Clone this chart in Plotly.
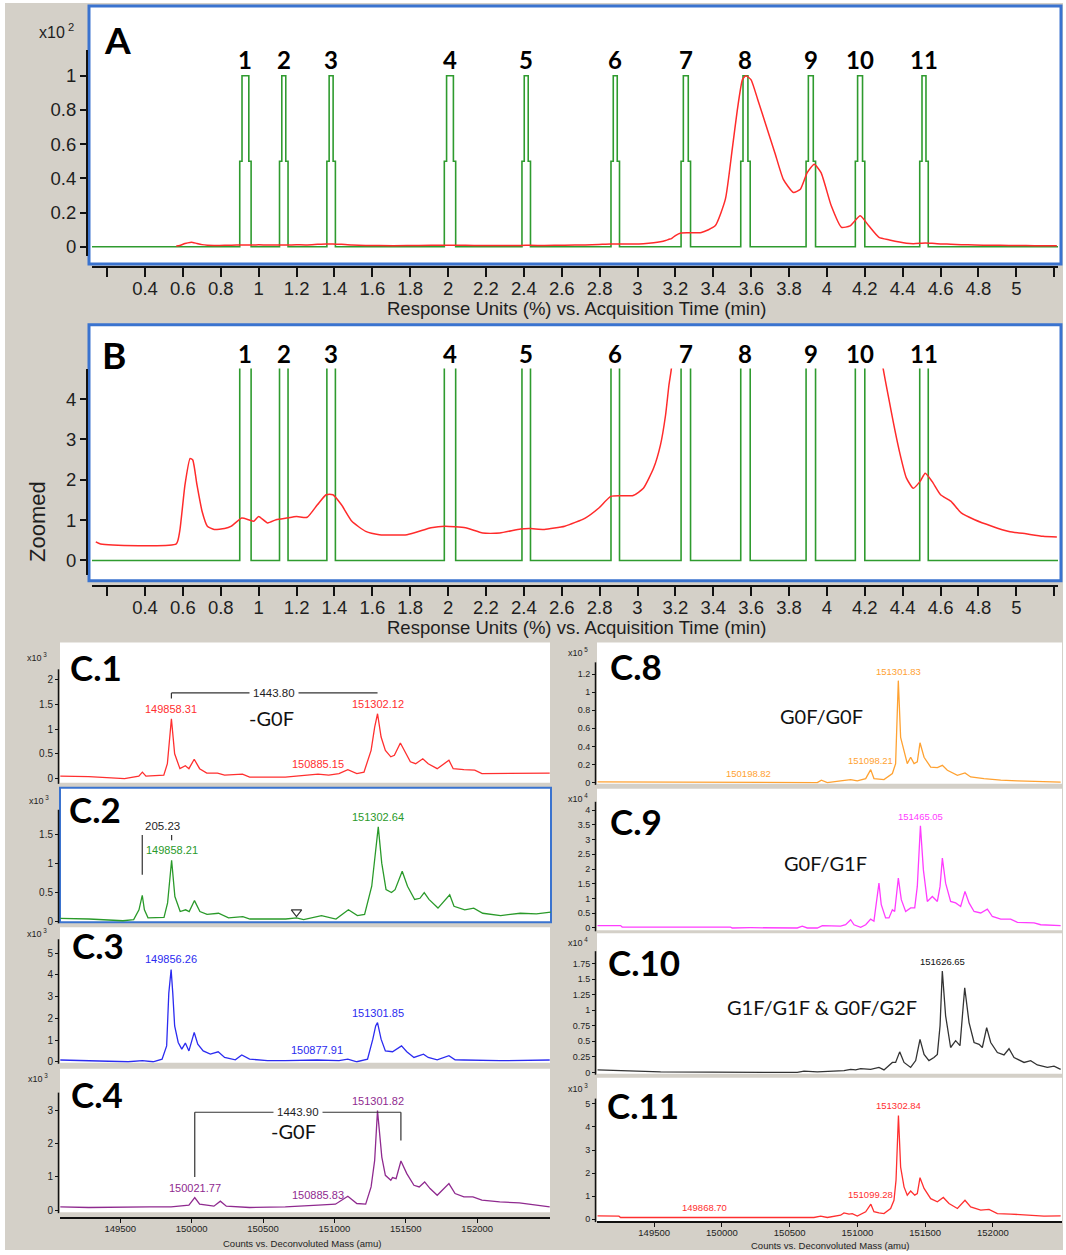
import numpy as np
import plotly.graph_objects as go

# ---------------- Total ion chromatogram (panels A and B) ----------------
# acquisition time (min) and response (% of the largest peak)
tic_time = [0.14, 0.165, 0.565, 0.583, 0.611, 0.638, 0.652, 0.674, 0.701, 0.729,
            0.765, 0.82, 0.856, 0.91, 0.947, 0.974, 1.0, 1.047, 1.092, 1.147,
            1.2, 1.256, 1.31, 1.356, 1.392, 1.437, 1.492, 1.565, 1.637, 1.783,
            1.91, 1.983, 2.092, 2.183, 2.273, 2.383, 2.435, 2.508, 2.616, 2.724,
            2.796, 2.859, 2.977, 3.031, 3.085, 3.121, 3.148, 3.166, 3.179, 3.20,
            3.229, 3.337, 3.41, 3.464, 3.50, 3.527, 3.554, 3.572, 3.599, 3.635,
            3.68, 3.725, 3.77, 3.823, 3.86, 3.896, 3.933, 3.969, 4.023, 4.077,
            4.122, 4.176, 4.221, 4.275, 4.33, 4.383, 4.42, 4.456, 4.492, 4.519,
            4.555, 4.6, 4.654, 4.709, 4.78, 4.871, 4.961, 5.051, 5.141, 5.214]
tic_pct = [0.46, 0.41, 0.41, 0.72, 1.88, 2.53, 2.49, 1.88, 1.22, 0.85,
           0.77, 0.79, 0.85, 1.05, 1.01, 0.97, 1.09, 0.93, 1.01, 1.05,
           1.09, 1.07, 1.38, 1.63, 1.63, 1.38, 0.97, 0.72, 0.64, 0.64,
           0.81, 0.85, 0.81, 0.68, 0.68, 0.78, 0.79, 0.77, 0.85, 1.05,
           1.30, 1.59, 1.61, 1.79, 2.29, 2.86, 3.60, 4.35, 4.76, 6.5,
           8.0, 8.3, 12.2, 27.8, 56.9, 80.0, 97.7, 100.0, 97.7, 86.0,
           70.5, 55.0, 39.4, 31.7, 33.6, 43.3, 48.2, 43.3, 23.9, 11.3,
           12.2, 18.1, 12.2, 5.4, 3.93, 2.70, 2.04, 1.79, 1.96, 2.16,
           1.96, 1.63, 1.47, 1.18, 1.01, 0.85, 0.72, 0.66, 0.60, 0.58]
tic_first_time_full_view = 0.565

# MS acquisition windows (min)
win_start = [0.90, 1.11, 1.36, 1.98, 2.39, 2.86, 3.23, 3.545, 3.89, 4.15, 4.49]
win_end = [0.96, 1.155, 1.405, 2.04, 2.435, 2.905, 3.28, 3.595, 3.94, 4.20, 4.535]
win_label = ["1", "2", "3", "4", "5", "6", "7", "8", "9", "10", "11"]
win_height_pct = 100.0
scan_span = [0.12, 5.22]

# ---------------- Deconvoluted spectra: mass (amu) vs counts ----------------
c1_mass = [149080, 149280, 149530, 149630, 149655, 149680, 149805, 149830, 149858.31, 149881,
           149918, 149956, 149981, 150018, 150056, 150106, 150181, 150231, 150356, 150406,
           150656, 150780, 150885.15, 150960, 151032, 151094, 151157, 151207, 151257, 151282,
           151302.12, 151327, 151357, 151395, 151420, 151462, 151495, 151532, 151569, 151619,
           151657, 151720, 151802, 151832, 151907, 151983, 152033, 152283, 152408, 152508]
c1_counts = [0.05, 0.04, 0.00, 0.05, 0.13, 0.05, 0.07, 0.30, 1.21, 0.50,
             0.20, 0.26, 0.20, 0.39, 0.20, 0.11, 0.11, 0.07, 0.09, 0.03,
             0.03, 0.06, 0.09, 0.07, 0.10, 0.18, 0.10, 0.13, 0.57, 1.04,
             1.31, 0.84, 0.57, 0.44, 0.47, 0.72, 0.54, 0.34, 0.30, 0.40,
             0.30, 0.20, 0.37, 0.20, 0.18, 0.17, 0.10, 0.10, 0.10, 0.11]
c1_peaks = [149858.31, 151302.12, 150885.15]
c1_delta = 1443.80

c2_mass = [149080, 149280, 149518, 149593, 149630, 149652.98, 149668, 149693, 149805, 149830,
           149858.21, 149881, 149918, 149956, 149981, 150018, 150056, 150106, 150186, 150256,
           150356, 150406, 150656, 150731, 150781, 150906, 151007, 151094, 151157, 151207,
           151257, 151282, 151302.64, 151327, 151357, 151395, 151420, 151470, 151507, 151557,
           151594, 151624, 151657, 151720, 151802, 151832, 151907, 151970, 152033, 152158,
           152295, 152408, 152508]
c2_counts = [0.05, 0.04, 0.01, 0.03, 0.20, 0.45, 0.20, 0.06, 0.07, 0.32,
             1.06, 0.43, 0.17, 0.20, 0.17, 0.36, 0.17, 0.12, 0.14, 0.06,
             0.08, 0.04, 0.04, 0.06, 0.03, 0.10, 0.04, 0.20, 0.10, 0.12,
             0.61, 1.18, 1.64, 1.01, 0.55, 0.50, 0.55, 0.87, 0.61, 0.38,
             0.40, 0.50, 0.38, 0.23, 0.46, 0.26, 0.20, 0.23, 0.14, 0.10,
             0.14, 0.13, 0.16]
c2_peaks = [149858.21, 151302.64]
c2_delta = 205.23
c2_marker_mass = [150731]
c2_marker_counts = [0.16]

c3_mass = [149080, 149305, 149555, 149655, 149730, 149793, 149825, 149840, 149856.26, 149868,
           149881, 149906, 149931, 149956, 149981, 150018, 150043, 150081, 150131, 150186,
           150231, 150306, 150351, 150406, 150531, 150656, 150877.91, 151032, 151094, 151157,
           151232, 151269, 151289, 151301.85, 151327, 151357, 151407, 151470, 151507, 151557,
           151624, 151657, 151720, 151802, 151845, 151907, 152158, 152508]
c3_counts = [0.08, 0.05, 0.00, 0.05, 0.00, 0.12, 0.73, 3.15, 4.25, 3.15,
             1.65, 0.89, 0.58, 0.86, 0.50, 1.35, 0.81, 0.50, 0.35, 0.46,
             0.20, 0.09, 0.31, 0.12, 0.05, 0.05, 0.08, 0.05, 0.12, 0.00,
             0.12, 1.04, 1.65, 1.80, 1.04, 0.50, 0.46, 0.73, 0.46, 0.20,
             0.35, 0.20, 0.09, 0.28, 0.09, 0.08, 0.05, 0.08]
c3_peaks = [149856.26, 151301.85, 150877.91]

c4_mass = [149080, 149280, 149705, 149856, 149981, 150021.77, 150056, 150156, 150201, 150243,
           150406, 150656, 150885.83, 151007, 151094, 151157, 151219, 151257, 151282, 151301.82,
           151332, 151357, 151395, 151407, 151432, 151466, 151507, 151557, 151594, 151632,
           151670, 151720, 151802, 151845, 151907, 151970, 152033, 152158, 152295, 152408,
           152508]
c4_counts = [0.10, 0.08, 0.10, 0.10, 0.15, 0.38, 0.18, 0.12, 0.27, 0.12,
             0.08, 0.10, 0.15, 0.18, 0.42, 0.20, 0.18, 0.70, 1.50, 3.00,
             1.60, 1.05, 0.90, 0.98, 0.95, 1.48, 1.10, 0.75, 0.70, 0.85,
             0.65, 0.45, 0.80, 0.50, 0.40, 0.40, 0.30, 0.25, 0.22, 0.15,
             0.10]
c4_peaks = [151301.82, 150021.77, 150885.83]
c4_delta = 1443.90

c8_mass = [149082, 149252, 149264, 150556, 150569, 150606, 150704, 150734, 150778, 150876,
           150950, 150999, 151061, 151098.21, 151122, 151196, 151258, 151282, 151301.83, 151319,
           151344, 151368, 151393, 151418, 151442, 151462, 151492, 151541, 151590, 151627,
           151664, 151738, 151794, 151836, 151934, 152058, 152181, 152291, 152304, 152500]
c8_counts = [0.007, 0.007, 0.0, 0.0, 0.007, 0.0, 0.0, 0.026, 0.0, 0.018,
             0.033, 0.018, 0.044, 0.143, 0.044, 0.033, 0.10, 0.21, 1.127, 0.50,
             0.36, 0.21, 0.28, 0.21, 0.23, 0.44, 0.28, 0.17, 0.165, 0.19,
             0.136, 0.08, 0.106, 0.062, 0.044, 0.026, 0.018, 0.015, 0.007, 0.004]
c8_peaks = [151301.83, 151098.21, 150198.82]

c9_mass = [149082, 149252, 149264, 150064, 150076, 150212, 150556, 150593, 150630, 150704,
           150741, 150802, 150876, 150913, 150950, 150975, 151024, 151061, 151098, 151122,
           151142, 151159, 151176, 151208, 151233, 151258, 151275, 151302, 151324, 151356,
           151393, 151423, 151442, 151465.05, 151487, 151516, 151553, 151590, 151610, 151627,
           151651, 151688, 151725, 151762, 151794, 151824, 151861, 151910, 151959, 151996,
           152058, 152131, 152181, 152304, 152353, 152500]
c9_counts = [0.08, 0.08, 0.03, 0.03, 0.0, 0.01, 0.0, 0.06, 0.0, 0.0,
             0.08, 0.06, 0.06, 0.11, 0.28, 0.11, 0.02, 0.11, 0.30, 0.23,
             0.96, 1.52, 0.79, 0.34, 0.34, 0.62, 0.56, 1.69, 0.96, 0.56,
             0.68, 0.68, 1.41, 3.47, 1.97, 0.90, 1.07, 0.90, 1.41, 2.37,
             1.52, 0.90, 0.85, 0.73, 1.24, 0.85, 0.56, 0.51, 0.64, 0.39,
             0.30, 0.30, 0.19, 0.17, 0.11, 0.08]
c9_peaks = [151465.05]

c10_mass = [149082, 149252, 149547, 150310, 150556, 150606, 150704, 150901, 150950, 150987,
            151024, 151098, 151159, 151196, 151258, 151282, 151312, 151344, 151393, 151430,
            151462, 151492, 151528, 151565, 151590, 151610, 151626.65, 151651, 151688, 151725,
            151757, 151792, 151824, 151861, 151898, 151922, 151954, 151984, 152033, 152082,
            152119, 152156, 152230, 152279, 152328, 152402, 152451, 152500]
c10_counts = [0.04, 0.03, 0.01, 0.0, 0.0, 0.02, 0.01, 0.03, 0.05, 0.04,
              0.06, 0.05, 0.08, 0.04, 0.16, 0.16, 0.33, 0.16, 0.08, 0.19,
              0.53, 0.29, 0.19, 0.24, 0.29, 0.75, 1.63, 0.91, 0.40, 0.51,
              0.43, 1.36, 0.80, 0.48, 0.45, 0.40, 0.72, 0.48, 0.32, 0.28,
              0.38, 0.24, 0.16, 0.19, 0.12, 0.08, 0.10, 0.05]
c10_peaks = [151626.65]

c11_mass = [149082, 149240, 149252, 149720, 149868.70, 150113, 150126, 150679, 150729, 150778,
            150876, 150901, 150938, 150962, 150999, 151061, 151099.28, 151122, 151159, 151196,
            151245, 151270, 151285, 151302.84, 151319, 151344, 151368, 151393, 151423, 151442,
            151462, 151492, 151541, 151590, 151634, 151676, 151738, 151794, 151836, 151910,
            151971, 152033, 152131, 152279, 152377, 152500]
c11_counts = [0.14, 0.13, 0.07, 0.07, 0.10, 0.10, 0.07, 0.07, 0.13, 0.07,
              0.17, 0.27, 0.22, 0.24, 0.13, 0.32, 0.65, 0.32, 0.27, 0.24,
              0.46, 0.82, 1.69, 4.50, 2.26, 1.40, 1.04, 1.22, 1.04, 1.11,
              1.80, 1.33, 0.89, 0.75, 0.94, 0.68, 0.46, 0.82, 0.53, 0.39,
              0.42, 0.24, 0.22, 0.16, 0.13, 0.14]
c11_peaks = [151302.84, 151099.28, 149868.70]

mass_span = [149078, 152510]
mass_ticks = [149500, 150000, 150500, 151000, 151500, 152000]

# ---------------- page geometry and styling ----------------
W, H = 1066, 1255


def fx(p):
    return p / W


def fy(p):
    return 1 - p / H


GRAY = "#d4d0c8"
BLUE = "#3a73cf"
GREEN = "#2f9b2f"
RED = "#ff2b2b"
INK = "#1e1e1e"
NARROW = "Liberation Sans, Arial, sans-serif"
SANS = "Lato, Open Sans, sans-serif"

fig = go.Figure()
shapes = []
annos = []
layout = dict(width=W, height=H, margin=dict(l=0, r=0, t=0, b=0),
              paper_bgcolor="white", plot_bgcolor="white", showlegend=False)


def note(px_x, px_y, text, size, family=NARROW, color=INK, **kw):
    """Free text placed on the page, centred on a pixel position."""
    d = dict(x=fx(px_x), y=fy(px_y), xref="paper", yref="paper", text=text, showarrow=False,
             xanchor="center", yanchor="middle", font=dict(family=family, size=size, color=color))
    d.update(kw)
    annos.append(d)


# window background
shapes.append(dict(type="rect", xref="paper", yref="paper", x0=fx(5), x1=fx(1063),
                   y0=fy(1255), y1=fy(3), fillcolor=GRAY, line=dict(width=0), layer="below"))


def window_path(starts, ends, t_first, t_last, top, jog=0.012):
    t, v = [t_first], [0.0]
    for a, b in zip(starts, ends):
        t += [a, a, a + jog, a + jog, b - jog, b - jog, b, b]
        v += [0, top / 2, top / 2, top, top, top / 2, top / 2, 0]
    t.append(t_last)
    v.append(0.0)
    return t, v


# ---------------- chromatogram panels ----------------
chrom_panels = [
    dict(n=1, box=(89, 1061, 6, 265), dom=(50, 257), zero=247.7, ppu=171.7, scale=0.01,
         xline=268, yticks=[0, 0.2, 0.4, 0.6, 0.8, 1.0], letter="A", letter_xy=(117, 40),
         num_y=60, title_y=310, full_view=True),
    dict(n=2, box=(89, 1061, 326, 583), dom=(370, 577), zero=562.7, ppu=40.5, scale=1.0,
         xline=588, yticks=[0, 1, 2, 3, 4], letter="B", letter_xy=(114, 356),
         num_y=355, title_y=630, full_view=False),
]
# labelled time ticks every 0.2 min; the end ticks carry no label
xt_vals = [round(0.2 * k, 1) for k in range(2, 26)]
xt_end_ticks = [0.2, 5.2]

for cp in chrom_panels:
    n = cp["n"]
    sfx = "" if n == 1 else str(n)
    bx0, bx1, by0, by1 = cp["box"]
    shapes.append(dict(type="rect", xref="paper", yref="paper", x0=fx(bx0), x1=fx(bx1),
                       y0=fy(by1), y1=fy(by0), fillcolor="white",
                       line=dict(color=BLUE, width=3), layer="below"))
    d_top, d_bot = cp["dom"]
    yr = [(cp["zero"] - d_bot) / cp["ppu"], (cp["zero"] - d_top) / cp["ppu"]]
    layout["xaxis" + sfx] = dict(domain=[fx(92), fx(1058)], range=scan_span, anchor="free",
                                 position=fy(cp["xline"]), showgrid=False, zeroline=False,
                                 showline=True, linecolor="#111", linewidth=2,
                                 ticks="outside", ticklen=9, tickwidth=1.5, tickcolor="#111",
                                 tickvals=xt_vals, ticktext=[f"{v:g}" for v in xt_vals],
                                 ticklabelstandoff=-4,
                                 minor=dict(tickmode="array", tickvals=xt_end_ticks, ticks="outside",
                                            ticklen=9, tickwidth=1.5, tickcolor="#111"),
                                 tickfont=dict(family=NARROW, size=18.5, color=INK))
    layout["yaxis" + sfx] = dict(domain=[fy(d_bot), fy(d_top)], range=yr, anchor="free",
                                 position=fx(87), showgrid=False, zeroline=False,
                                 showline=True, linecolor="#111", linewidth=2,
                                 ticks="outside", ticklen=6, tickwidth=1.5, tickcolor="#111",
                                 tickvals=cp["yticks"], ticktext=[f"{v:g}" for v in cp["yticks"]],
                                 tickfont=dict(family=NARROW, size=18.5, color=INK))
    gt, gv = window_path(win_start, win_end, scan_span[0], scan_span[1], win_height_pct)
    fig.add_trace(go.Scatter(x=gt, y=[v * cp["scale"] for v in gv], mode="lines",
                             line=dict(color=GREEN, width=1.6), xaxis="x" + sfx, yaxis="y" + sfx,
                             hoverinfo="skip"))
    tt = np.array(tic_time)
    tv = np.array(tic_pct)
    if cp["full_view"]:
        keep = tt >= tic_first_time_full_view
        tt, tv = tt[keep], tv[keep]
    fig.add_trace(go.Scatter(x=tt, y=tv * cp["scale"], mode="lines",
                             line=dict(color=RED, width=1.5, shape="spline", smoothing=0.5),
                             xaxis="x" + sfx, yaxis="y" + sfx))
    for a, b, lab in zip(win_start, win_end, win_label):
        annos.append(dict(x=(a + b) / 2, y=fy(cp["num_y"]), xref="x" + sfx, yref="paper",
                          text=f"<b>{lab}</b>", showarrow=False, xanchor="center",
                          yanchor="middle", font=dict(family=SANS, size=24, color="black")))
    lx, ly = cp["letter_xy"]
    note(lx, ly, f"<b>{cp['letter']}</b>", 37, family=SANS, color="black")
    note(576, cp["title_y"], "Response Units (%) vs. Acquisition Time (min)", 18.5)

note(56, 31, "x10<sup> 2</sup>", 16)
note(38, 524, "Zoomed", 22, textangle=-90)

# ---------------- spectrum panels ----------------
spectra = [
    dict(tag="C.1", m=c1_mass, c=c1_counts, pk=c1_peaks, color="#ff2f2f", x0=60, x1=550,
         top=645, bot=786, zero=781.7, ppu=49.7, ax_top=672, yt=[0, 0.5, 1, 1.5, 2], exp="3",
         exp_xy=(37, 660), tag_xy=(96, 670), big=True),
    dict(tag="C.2", m=c2_mass, c=c2_counts, pk=c2_peaks, color="#2a9a2a", x0=60, x1=551,
         top=791, bot=926, zero=925.0, ppu=57.8, ax_top=813, yt=[0, 0.5, 1, 1.5], exp="3",
         exp_xy=(39, 803), tag_xy=(95, 812), big=True, boxed=True),
    dict(tag="C.3", m=c3_mass, c=c3_counts, pk=c3_peaks, color="#2b2bf0", x0=60, x1=550,
         top=931, bot=1067, zero=1066.0, ppu=21.8, ax_top=943, yt=[0, 1, 2, 3, 4, 5], exp="3",
         exp_xy=(37, 937), tag_xy=(98, 949), big=True),
    dict(tag="C.4", m=c4_mass, c=c4_counts, pk=c4_peaks, color="#8f2a8f", x0=60, x1=550,
         top=1073, bot=1217, zero=1215.0, ppu=33.33, ax_top=1097, yt=[0, 1, 2, 3], exp="3",
         exp_xy=(38, 1082), tag_xy=(97, 1098), big=True, xline=1223, xtitle_y=1248,
         xlab_x=302),
    dict(tag="C.8", m=c8_mass, c=c8_counts, pk=c8_peaks, color="#ffa232", x0=597, x1=1062,
         top=645, bot=787, zero=785.7, ppu=90.8, ax_top=665,
         yt=[0, 0.2, 0.4, 0.6, 0.8, 1.0, 1.2], exp="5", exp_xy=(578, 655), tag_xy=(636, 669),
         big=False),
    dict(tag="C.9", m=c9_mass, c=c9_counts, pk=c9_peaks, color="#ff3cff", x0=597, x1=1062,
         top=792, bot=934, zero=931.7, ppu=29.6, ax_top=805,
         yt=[0, 0.5, 1, 1.5, 2, 2.5, 3, 3.5, 4], exp="4", exp_xy=(578, 801), tag_xy=(636, 824),
         big=False),
    dict(tag="C.10", m=c10_mass, c=c10_counts, pk=c10_peaks, color="#333333", x0=597, x1=1062,
         top=937, bot=1078, zero=1076.7, ppu=62.5, ax_top=955,
         yt=[0, 0.25, 0.5, 0.75, 1, 1.25, 1.5, 1.75], exp="4", exp_xy=(578, 946),
         tag_xy=(644, 966), big=False, label_color="#111111"),
    dict(tag="C.11", m=c11_mass, c=c11_counts, pk=c11_peaks, color="#ff2f2f", x0=597, x1=1062,
         top=1082, bot=1226, zero=1224.0, ppu=23.13, ax_top=1103, yt=[0, 1, 2, 3, 4, 5],
         exp="3", exp_xy=(578, 1092), tag_xy=(643, 1109), big=False, xline=1227,
         xtitle_y=1250, xlab_x=830),
]

for k, sp in enumerate(spectra, start=3):
    xs, ys = f"x{k}", f"y{k}"
    yr = [(sp["zero"] - sp["bot"]) / sp["ppu"], (sp["zero"] - sp["top"]) / sp["ppu"]]
    shapes.append(dict(type="rect", xref="paper", yref="paper", x0=fx(sp["x0"]), x1=fx(sp["x1"]),
                       y0=fy(sp["bot"]), y1=fy(sp["top"]), fillcolor="white",
                       line=dict(color=BLUE, width=2) if sp.get("boxed") else dict(width=0),
                       layer="below"))
    # y axis line
    shapes.append(dict(type="line", xref="paper", yref="paper", x0=fx(sp["x0"] - 1.5),
                       x1=fx(sp["x0"] - 1.5), y0=fy(sp["bot"] + 1), y1=fy(sp["ax_top"]),
                       line=dict(color="#111", width=1.5)))
    xa = dict(domain=[fx(sp["x0"]), fx(sp["x1"])], range=mass_span, anchor=ys, showgrid=False,
              zeroline=False, showline=False, showticklabels=False, ticks="")
    if "xline" in sp:
        xa.update(anchor="free", position=fy(sp["xline"]), showline=True, linecolor="#111",
                  linewidth=1.5, ticks="outside", ticklen=4, tickcolor="#111", tickwidth=1,
                  showticklabels=True, tickvals=mass_ticks, ticklabelstandoff=-2,
                  ticktext=[str(v) for v in mass_ticks],
                  tickfont=dict(family=NARROW, size=9.5, color=INK))
        note(sp["xlab_x"], sp["xtitle_y"], "Counts vs. Deconvoluted Mass (amu)", 9.5)
    layout[f"xaxis{k}"] = xa
    layout[f"yaxis{k}"] = dict(domain=[fy(sp["bot"]), fy(sp["top"])], range=yr, anchor=xs,
                               showgrid=False, zeroline=False, showline=False,
                               ticks="outside", ticklen=4, tickcolor="#111", tickwidth=1,
                               tickvals=sp["yt"], ticktext=[f"{v:g}" for v in sp["yt"]],
                               tickfont=dict(family=NARROW, size=10 if sp["big"] else 9,
                                             color=INK))
    fig.add_trace(go.Scatter(x=sp["m"], y=sp["c"], mode="lines",
                             line=dict(color=sp["color"], width=1.3), xaxis=xs, yaxis=ys))
    # peak mass labels
    lab_col = sp.get("label_color", sp["color"])
    for pm in sp["pk"]:
        pv = float(np.interp(pm, sp["m"], sp["c"]))
        annos.append(dict(x=pm, y=pv, xref=xs, yref=ys, text=f"{pm:.2f}", showarrow=False,
                          xanchor="center", yanchor="bottom", yshift=2,
                          font=dict(family=NARROW, size=11 if sp["big"] else 9.5, color=lab_col)))
    ex, ey = sp["exp_xy"]
    note(ex, ey, f"x10<sup> {sp['exp']}</sup>", 9)
    tx, ty = sp["tag_xy"]
    note(tx, ty, f"<b>{sp['tag']}</b>", 35, family=SANS, color="black")

# C.2 position marker
fig.add_trace(go.Scatter(x=c2_marker_mass, y=c2_marker_counts, mode="markers", xaxis="x4",
                         yaxis="y4", marker=dict(symbol="triangle-down-open", size=9,
                                                 color="#333", line=dict(width=1.2))))

# mass difference brackets
BR = dict(color="#333", width=1.2)
# C.1: loss of one G0F glycan
c1_lo = c1_peaks[0]
c1_hi = c1_lo + c1_delta
shapes += [
    dict(type="line", xref="x3", yref="y3", x0=c1_lo, x1=c1_hi, y0=1.73, y1=1.73, line=BR),
    dict(type="line", xref="x3", yref="y3", x0=c1_lo, x1=c1_lo, y0=1.73, y1=1.62, line=BR),
]
annos.append(dict(x=(c1_lo + c1_hi) / 2, y=1.73, xref="x3", yref="y3", text=f"{c1_delta:.2f}",
                  showarrow=False, bgcolor="white", borderpad=3, xanchor="center",
                  yanchor="middle", font=dict(family=NARROW, size=11.5, color=INK)))
# C.2: 205.23 spacing
c2_hi = c2_peaks[0]
c2_lo = c2_hi - c2_delta
shapes += [
    dict(type="line", xref="x4", yref="y4", x0=c2_lo, x1=c2_lo, y0=0.81, y1=1.5, line=BR),
    dict(type="line", xref="x4", yref="y4", x0=c2_hi, x1=c2_hi, y0=1.41, y1=1.5, line=BR),
]
annos.append(dict(x=c2_lo, y=1.5, xref="x4", yref="y4", text=f"{c2_delta:.2f}", showarrow=False,
                  xanchor="left", yanchor="bottom", xshift=1, yshift=1,
                  font=dict(family=NARROW, size=11.5, color=INK)))
# C.4: loss of one G0F glycan
c4_lo = c4_peaks[1]
c4_hi = c4_lo + c4_delta
shapes += [
    dict(type="line", xref="x6", yref="y6", x0=c4_lo, x1=c4_hi, y0=2.95, y1=2.95, line=BR),
    dict(type="line", xref="x6", yref="y6", x0=c4_lo, x1=c4_lo, y0=2.95, y1=1.0, line=BR),
    dict(type="line", xref="x6", yref="y6", x0=c4_hi, x1=c4_hi, y0=2.95, y1=2.1, line=BR),
]
annos.append(dict(x=(c4_lo + c4_hi) / 2, y=2.95, xref="x6", yref="y6", text=f"{c4_delta:.2f}",
                  showarrow=False, bgcolor="white", borderpad=3, xanchor="center",
                  yanchor="middle", font=dict(family=NARROW, size=11.5, color=INK)))

# glycoform captions
for txt, (gx, gy) in [("-G0F", (271, 721)), ("-G0F", (293, 1136)), ("G0F/G0F", (821, 719)),
                      ("G0F/G1F", (825, 866)), ("G1F/G1F &amp; G0F/G2F", (822, 1011))]:
    note(gx, gy, txt, 20, family=SANS, color="#111")

layout["shapes"] = shapes
layout["annotations"] = annos
fig.update_layout(**layout)
fig.write_html("out.html")
